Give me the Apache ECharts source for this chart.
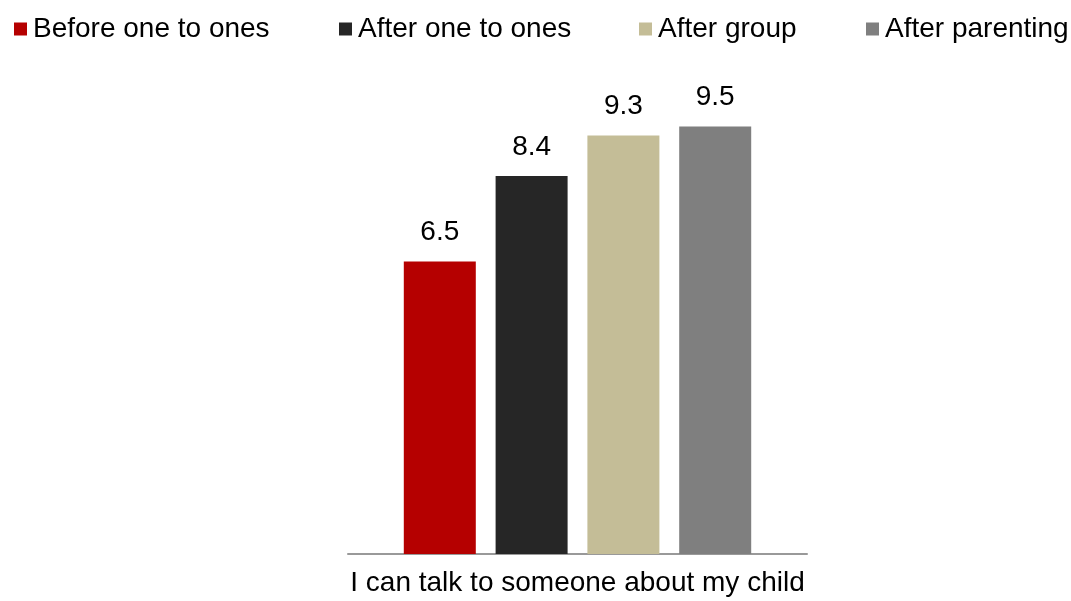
<!DOCTYPE html>
<html><head><meta charset="utf-8">
<script src="https://cdn.jsdelivr.net/npm/echarts@6/dist/echarts.min.js"></script>
<style>html,body{margin:0;padding:0;background:#fff}#c{width:1071px;height:601px}</style>
</head><body><div id="c"></div>
<script>
const categories = ['I can talk to someone about my child'];
const seriesNames = ['Before one to ones', 'After one to ones', 'After group', 'After parenting'];
const beforeOneToOnes = [6.5];
const afterOneToOnes = [8.4];
const afterGroup = [9.3];
const afterParenting = [9.5];
const values = [beforeOneToOnes, afterOneToOnes, afterGroup, afterParenting];
const colors = ['#B50000', '#262626', '#C4BD97', '#7F7F7F'];
const legendLefts = [14, 339, 639, 866];
const font = 'Liberation Sans, Arial, sans-serif';

const chart = echarts.init(document.getElementById('c'));
chart.setOption({
  animation: false,
  textStyle: { fontFamily: font },
  legend: seriesNames.map((n, i) => ({
    data: [n], left: legendLefts[i], top: 15, padding: 0, itemWidth: 13, itemHeight: 13,
    itemGap: 0, icon: 'rect',
    textStyle: { fontSize: 28, color: '#000', fontFamily: font, padding: [0, 0, 0, 1] }
  })),
  grid: { left: 348, right: 264, top: 104, bottom: 47, containLabel: false },
  xAxis: {
    type: 'category', data: categories,
    axisLine: { lineStyle: { color: '#999', width: 2 } },
    axisTick: { show: false },
    axisLabel: { fontSize: 28, color: '#000', margin: 15, fontFamily: font }
  },
  yAxis: { type: 'value', min: 0, max: 10, show: false, splitLine: { show: false } },
  series: seriesNames.map((n, i) => ({
    name: n, type: 'bar', data: values[i], barWidth: 72, barGap: '27.5%',
    itemStyle: { color: colors[i] },
    label: { show: true, position: 'top', distance: 15, fontSize: 28, color: '#000', fontFamily: font,
      formatter: p => p.value.toFixed(1) }
  }))
});
</script></body></html>
